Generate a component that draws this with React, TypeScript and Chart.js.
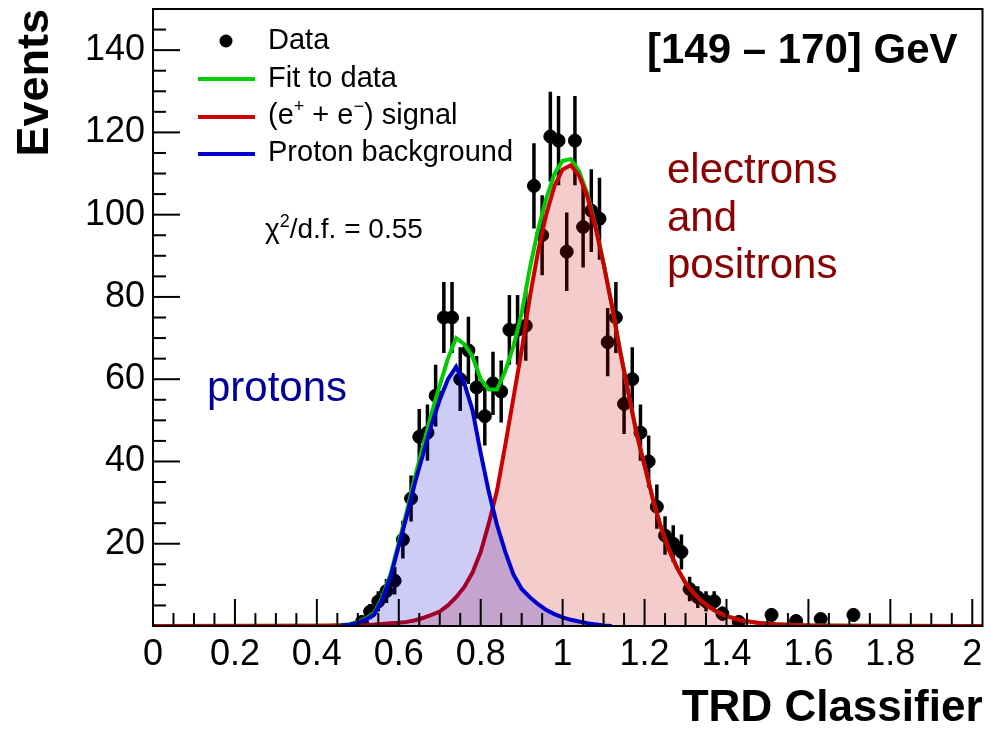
import React, { useEffect, useRef } from "react";
import { Chart, registerables } from "chart.js";
Chart.register(...registerables);

// ---------- data ----------
const xTicks = [0, 0.2, 0.4, 0.6, 0.8, 1, 1.2, 1.4, 1.6, 1.8, 2];
const yTicks = [20, 40, 60, 80, 100, 120, 140];

const binCenters = [
  0.51, 0.53, 0.55, 0.57, 0.59, 0.61, 0.63, 0.65, 0.67, 0.69,
  0.71, 0.73, 0.75, 0.77, 0.79, 0.81, 0.83, 0.85, 0.87, 0.89,
  0.91, 0.93, 0.95, 0.97, 0.99, 1.01, 1.03, 1.05, 1.07, 1.09,
  1.11, 1.13, 1.15, 1.17, 1.19, 1.21, 1.23, 1.25, 1.27, 1.29,
  1.31, 1.33, 1.35, 1.37, 1.39, 1.43, 1.51, 1.57, 1.63, 1.71,
];
const events = [
  1, 3.5, 6, 8.5, 11, 21, 31, 46, 47, 56,
  75, 75, 60, 67, 58, 51, 59, 57, 72, 72,
  73, 107, 95, 119, 118, 91, 118, 97, 101, 99,
  69, 75, 54, 60, 47, 40, 29, 22, 20, 18,
  9, 7, 6, 6, 3, 1, 2.7, 1.2, 1.7, 2.7,
];

const curveX = [
  0, 0.4, 0.44, 0.46, 0.48, 0.5, 0.52, 0.54, 0.56, 0.58,
  0.6, 0.62, 0.64, 0.66, 0.68, 0.7, 0.72, 0.74, 0.76, 0.78,
  0.8, 0.82, 0.84, 0.86, 0.88, 0.9, 0.92, 0.94, 0.96, 0.98,
  1.0, 1.02, 1.04, 1.06, 1.08, 1.1, 1.12, 1.14, 1.16, 1.18,
  1.2, 1.22, 1.24, 1.26, 1.28, 1.3, 1.32, 1.34, 1.36, 1.38,
  1.4, 1.44, 1.48, 1.52, 1.56, 1.6, 1.7, 2.0, 2.025,
];
const signalY = [
  0, 0.05, 0.1, 0.12, 0.15, 0.2, 0.25, 0.35, 0.5, 0.65,
  0.8, 1.0, 1.4, 2.0, 2.7, 3.5, 5.0, 7.0, 9.5, 13,
  18, 25, 33, 44, 55.5, 67, 80, 91, 100, 107,
  111, 112, 109.5, 104.5, 97, 88, 78, 67, 57, 47,
  39, 31, 24, 18.5, 14, 10.5, 8, 6, 4.5, 3.3,
  2.4, 1.3, 0.75, 0.4, 0.25, 0.15, 0.05, 0, 0,
];
const fitY = [
  0, 0.05, 0.1, 0.22, 0.45, 1.0, 1.85, 3.15, 7.0, 12.65,
  20.3, 28, 36.4, 44, 51.7, 58.5, 65, 70, 68.5, 65.5,
  60, 57.5, 57.5, 62, 68, 76, 87, 96.3, 103.9, 109.9,
  113.1, 113.5, 110.6, 105.2, 97.4, 88.15, 78, 67, 57, 47,
  39, 31, 24, 18.5, 14, 10.5, 8, 6, 4.5, 3.3,
  2.4, 1.3, 0.75, 0.4, 0.25, 0.15, 0.05, 0, 0,
];
const protonX = [
  0.46, 0.48, 0.5, 0.52, 0.54, 0.56, 0.58, 0.6, 0.62, 0.64,
  0.66, 0.68, 0.7, 0.72, 0.74, 0.76, 0.78, 0.8, 0.82, 0.84,
  0.86, 0.88, 0.9, 0.92, 0.94, 0.96, 0.98, 1.0, 1.02, 1.04,
  1.06, 1.08, 1.1, 1.12,
];
const protonY = [
  0.1, 0.3, 0.8, 1.6, 2.8, 6.5, 12, 19.5, 27, 35,
  42, 49, 55, 60, 63, 59, 52.5, 42, 32.5, 24.5,
  18, 12.5, 9, 7, 5.3, 3.9, 2.9, 2.1, 1.5, 1.1,
  0.7, 0.4, 0.15, 0,
];

const FONT = '"Liberation Sans", Arial, Helvetica, sans-serif';
const GREEN = "#00cc00";
const RED = "#cc0000";
const BLUE = "#0000cc";

const pts = (xs: number[], ys: number[]) => xs.map((x, i) => ({ x, y: ys[i] }));

const errorBars = {
  id: "errorBars",
  beforeDatasetsDraw(chart: any) {
    const { ctx, chartArea, scales } = chart;
    const { x, y } = scales;
    ctx.save();
    ctx.beginPath();
    ctx.rect(chartArea.left, chartArea.top, chartArea.right - chartArea.left, chartArea.bottom - chartArea.top);
    ctx.clip();
    ctx.strokeStyle = "#000";
    ctx.lineWidth = 3.5;
    binCenters.forEach((c, i) => {
      const v = events[i];
      const e = Math.sqrt(v);
      const px = x.getPixelForValue(c);
      ctx.beginPath();
      ctx.moveTo(px, y.getPixelForValue(Math.max(0, v - e)));
      ctx.lineTo(px, y.getPixelForValue(v + e));
      ctx.stroke();
    });
    ctx.restore();
  },
};

const decorations = {
  id: "decorations",
  afterDraw(chart: any) {
    const { ctx, chartArea, scales } = chart;
    const { x, y } = scales;
    const { left, right, top, bottom } = chartArea;
    ctx.save();
    // frame
    ctx.strokeStyle = "#000";
    ctx.lineWidth = 2;
    ctx.strokeRect(left, top, right - left, bottom - top);
    // x ticks (inward)
    for (let k = 0; k <= 40; k++) {
      const v = k * 0.05;
      const px = x.getPixelForValue(v);
      const len = k % 4 === 0 ? 27 : 13;
      ctx.beginPath();
      ctx.moveTo(px, bottom);
      ctx.lineTo(px, bottom - len);
      ctx.stroke();
    }
    // y ticks (inward)
    for (let k = 0; k <= 29; k++) {
      const v = k * 5;
      const py = y.getPixelForValue(v);
      const len = k % 4 === 0 ? 27 : 13;
      ctx.beginPath();
      ctx.moveTo(left, py);
      ctx.lineTo(left + len, py);
      ctx.stroke();
    }

    // legend
    ctx.fillStyle = "#000";
    ctx.beginPath();
    ctx.arc(226, 41, 6.5, 0, Math.PI * 2);
    ctx.fill();
    ctx.lineWidth = 4;
    const legendLines: [string, number][] = [[GREEN, 79], [RED, 117], [BLUE, 154]];
    legendLines.forEach(([c, yy]) => {
      ctx.strokeStyle = c;
      ctx.beginPath();
      ctx.moveTo(198, yy);
      ctx.lineTo(255, yy);
      ctx.stroke();
    });
    ctx.fillStyle = "#000";
    ctx.textAlign = "left";
    ctx.textBaseline = "alphabetic";
    ctx.font = `29px ${FONT}`;
    ctx.fillText("Data", 268, 49);
    ctx.fillText("Fit to data", 268, 87);
    let xx = 268;
    const yb = 124;
    const seg = (t: string, f: string, dy: number) => {
      ctx.font = f;
      ctx.fillText(t, xx, yb + dy);
      xx += ctx.measureText(t).width;
    };
    seg("(e", `29px ${FONT}`, 0);
    seg("+", `18px ${FONT}`, -12);
    seg(" + e", `29px ${FONT}`, 0);
    seg("\u2212", `18px ${FONT}`, -12);
    seg(") signal", `29px ${FONT}`, 0);
    ctx.font = `29px ${FONT}`;
    ctx.fillText("Proton background", 268, 161);

    // chi2
    xx = 265;
    const yc = 238;
    const seg2 = (t: string, f: string, dy: number) => {
      ctx.font = f;
      ctx.fillText(t, xx, yc + dy);
      xx += ctx.measureText(t).width;
    };
    seg2("\u03C7", `28px ${FONT}`, 0);
    seg2("2", `18px ${FONT}`, -11);
    seg2("/d.f. = 0.55", `28px ${FONT}`, 0);

    // energy bin
    ctx.font = `bold 42px ${FONT}`;
    ctx.fillStyle = "#000";
    ctx.fillText("[149 \u2013 170] GeV", 647, 63);

    // electrons and positrons
    ctx.font = `42px ${FONT}`;
    ctx.fillStyle = "#880000";
    ctx.fillText("electrons", 667, 183);
    ctx.fillText("and", 667, 231);
    ctx.fillText("positrons", 667, 278);

    // protons
    ctx.fillStyle = "#000099";
    ctx.fillText("protons", 207, 401);
    ctx.restore();
  },
};

export default function App() {
  const ref = useRef<HTMLCanvasElement | null>(null);
  useEffect(() => {
    document.body.style.margin = "0";
    const canvas = ref.current;
    if (!canvas) return;
    const chart = new Chart(canvas, {
      type: "scatter",
      data: {
        datasets: [
          {
            label: "Data",
            data: pts(binCenters, events),
            backgroundColor: "#000",
            borderColor: "#000",
            pointRadius: 6.5,
            pointHoverRadius: 6.5,
            showLine: false,
            order: 5,
          },
          {
            label: "Fit to data",
            data: pts(curveX, fitY),
            borderColor: GREEN,
            borderWidth: 4,
            pointRadius: 0,
            showLine: true,
            fill: false,
            tension: 0,
            order: 4,
          },
          {
            label: "(e+ + e-) signal",
            data: pts(curveX, signalY),
            borderColor: RED,
            backgroundColor: "rgba(204,0,0,0.2)",
            borderWidth: 4,
            pointRadius: 0,
            showLine: true,
            fill: "origin",
            tension: 0,
            order: 3,
          },
          {
            label: "Proton background",
            data: pts(protonX, protonY),
            borderColor: BLUE,
            backgroundColor: "rgba(0,0,204,0.2)",
            borderWidth: 4,
            pointRadius: 0,
            showLine: true,
            fill: "origin",
            tension: 0,
            order: 2,
          },
        ],
      },
      options: {
        responsive: false,
        animation: false,
        devicePixelRatio: 1,
        layout: { padding: { top: 9, right: 4, left: 0, bottom: 0 } },
        plugins: {
          legend: { display: false },
          tooltip: { enabled: false },
        },
        scales: {
          x: {
            type: "linear",
            min: 0,
            max: 2.025,
            grid: { display: false, drawTicks: false },
            border: { display: false },
            afterBuildTicks: (scale: any) => {
              scale.ticks = xTicks.map((v) => ({ value: v }));
            },
            afterFit: (scale: any) => {
              scale.height = 105;
              scale.paddingLeft = 0;
              scale.paddingRight = 0;
              scale.paddingTop = 0;
              scale.paddingBottom = 0;
            },
            ticks: {
              autoSkip: false,
              maxRotation: 0,
              padding: 7,
              color: "#000",
              font: { family: FONT, size: 36 },
              callback: (v: any) => String(Number(Number(v).toFixed(1))),
            },
            title: {
              display: true,
              text: "TRD Classifier",
              align: "end",
              color: "#000",
              font: { family: FONT, size: 44, weight: "bold", lineHeight: 1 },
              padding: { top: 0, bottom: 0 },
            },
          },
          y: {
            type: "linear",
            min: 0,
            max: 150,
            grid: { display: false, drawTicks: false },
            border: { display: false },
            afterBuildTicks: (scale: any) => {
              scale.ticks = yTicks.map((v) => ({ value: v }));
            },
            afterFit: (scale: any) => {
              scale.width = 153;
              scale.paddingLeft = 0;
              scale.paddingRight = 0;
              scale.paddingTop = 0;
              scale.paddingBottom = 0;
            },
            ticks: {
              autoSkip: false,
              padding: 8,
              color: "#000",
              font: { family: FONT, size: 36 },
            },
            title: {
              display: true,
              text: "Events",
              align: "end",
              color: "#000",
              font: { family: FONT, size: 45, weight: "bold", lineHeight: 1 },
              padding: { top: 13, bottom: 0 },
            },
          },
        },
      } as any,
      plugins: [errorBars, decorations],
    });
    return () => chart.destroy();
  }, []);
  return (
    <div style={{ width: 990, height: 731 }}>
      <canvas ref={ref} width={990} height={731} style={{ display: "block" }} />
    </div>
  );
}
